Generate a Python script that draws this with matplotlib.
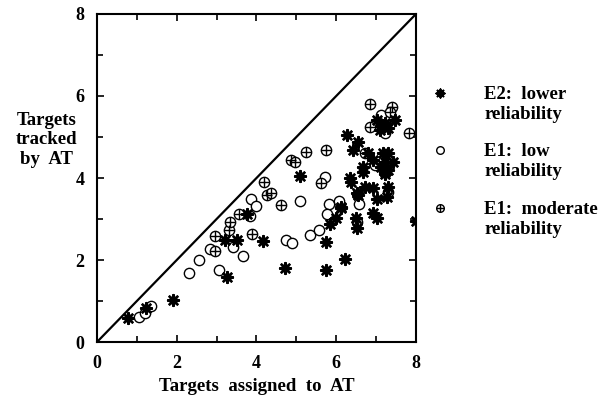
import matplotlib.pyplot as plt
from matplotlib.ticker import MultipleLocator

# E2: lower reliability (asterisks)
e2_x = [0.78, 1.22, 1.90, 3.27, 3.22, 3.51, 3.77, 4.17, 4.72, 5.10, 5.74, 5.74,
        5.84, 6.12, 5.99, 6.22, 6.34, 6.38, 6.51, 6.49, 6.51, 6.55, 6.68, 6.72,
        6.93, 7.01, 6.91, 7.01, 7.22, 7.30, 7.28, 8.00, 6.27, 6.55, 6.41, 6.80,
        6.93, 6.68, 7.18, 7.30, 7.13, 7.30, 7.22, 7.43, 7.22, 7.01, 7.22, 7.47,
        7.09, 7.30, 7.15, 6.13]
e2_y = [0.59, 0.84, 1.02, 1.59, 2.50, 2.50, 3.12, 2.47, 1.80, 4.06, 2.45, 1.76,
        2.88, 3.28, 3.02, 2.02, 3.99, 3.90, 3.63, 3.02, 2.77, 3.59, 4.15, 3.77,
        3.75, 3.50, 3.14, 3.02, 4.15, 3.79, 3.54, 2.96, 5.05, 4.89, 4.68, 4.60,
        4.44, 4.28, 4.60, 4.60, 4.28, 4.20, 4.40, 4.40, 4.10, 5.41, 5.33, 5.41,
        5.17, 5.21, 5.30, 3.30]

# E1: low reliability (open circles)
e1_low_x = [1.06, 1.21, 1.35, 2.31, 2.56, 2.84, 3.05, 3.42, 3.66, 3.83, 3.85, 3.98,
            4.74, 4.90, 5.09, 5.34, 5.57, 5.71, 5.82, 5.78, 6.07, 6.57, 6.51, 7.30,
            7.13, 7.22, 6.97]
e1_low_y = [0.62, 0.71, 0.89, 1.69, 2.00, 2.26, 1.76, 2.32, 2.10, 3.08, 3.49, 3.32,
            2.50, 2.41, 3.43, 2.61, 2.74, 4.03, 3.36, 3.12, 3.43, 3.36, 2.92, 3.66,
            5.54, 5.09, 4.32]

# E1: moderate reliability (crossed circles)
e1_mod_x = [2.95, 2.97, 3.32, 3.34, 3.55, 3.89, 4.18, 4.26, 4.36, 4.62, 5.63, 6.84,
            7.41, 7.34, 6.84, 7.82, 5.74, 5.24, 4.86, 4.96, 6.71]
e1_mod_y = [2.23, 2.58, 2.73, 2.93, 3.11, 2.64, 3.90, 3.58, 3.63, 3.34, 3.87, 5.80,
            5.74, 5.62, 5.25, 5.10, 4.68, 4.64, 4.44, 4.38, 4.61]

labels = ['E2:  lower\nreliability', 'E1:  low\nreliability', 'E1:  moderate\nreliability']

plt.rcParams['font.family'] = 'Liberation Serif'
plt.rcParams['font.weight'] = 'bold'

fig = plt.figure(figsize=(6.12, 4.01), dpi=100)
ax = fig.add_axes([0.1585, 0.1471, 0.5212, 0.818])

ax.plot([0, 8], [0, 8], color='black', lw=1.6, zorder=1)

star = (8, 2, 0)
ax.scatter(e2_x, e2_y, marker=star, s=60, color='black', linewidths=1.8, zorder=3)
ax.scatter(e1_low_x, e1_low_y, marker='o', s=55, facecolors='white',
           edgecolors='black', linewidths=1.0, zorder=2)
ax.scatter(e1_mod_x, e1_mod_y, marker='o', s=55, facecolors='white',
           edgecolors='black', linewidths=1.0, zorder=2)
ax.scatter(e1_mod_x, e1_mod_y, marker='+', s=55, color='black',
           linewidths=1.0, zorder=2)

ax.set_xlim(0, 8)
ax.set_ylim(0, 8)
ax.xaxis.set_major_locator(MultipleLocator(2))
ax.yaxis.set_major_locator(MultipleLocator(2))
ax.xaxis.set_minor_locator(MultipleLocator(1))
ax.yaxis.set_minor_locator(MultipleLocator(1))
ax.tick_params(which='both', direction='in', top=True, right=True, width=1.2)
ax.tick_params(which='major', length=5, pad=9, labelsize=13)
ax.tick_params(which='minor', length=4)
for s in ax.spines.values():
    s.set_linewidth(1.5)

ax.set_xlabel('Targets  assigned  to  AT', fontsize=13.5, fontweight='bold', labelpad=5)
ax.set_ylabel('Targets\ntracked\nby  AT', fontsize=13.5, fontweight='bold', rotation=0,
              ha='center', va='center', linespacing=1.2)
ax.yaxis.set_label_coords(-0.157, 0.616)

# legend drawn as markers + text beside the axes
fig_ax = fig.add_axes([0, 0, 1, 1], facecolor='none')
fig_ax.set_xlim(0, 612)
fig_ax.set_ylim(401, 0)
fig_ax.axis('off')
fig_ax.scatter([440], [93], marker=star, s=35, color='black', linewidths=1.4)
fig_ax.scatter([440], [150], marker='o', s=30, facecolors='white', edgecolors='black', linewidths=1.0)
fig_ax.scatter([440], [208], marker='o', s=30, facecolors='white', edgecolors='black', linewidths=1.0)
fig_ax.scatter([440], [208], marker='+', s=30, color='black', linewidths=1.0)
for yy, lab in zip([93, 150, 208], labels):
    fig_ax.text(484, yy - 7, lab, fontsize=13.5, fontweight='bold', ha='left', va='top',
                linespacing=1.2)

fig.savefig('out.png', dpi=100)
